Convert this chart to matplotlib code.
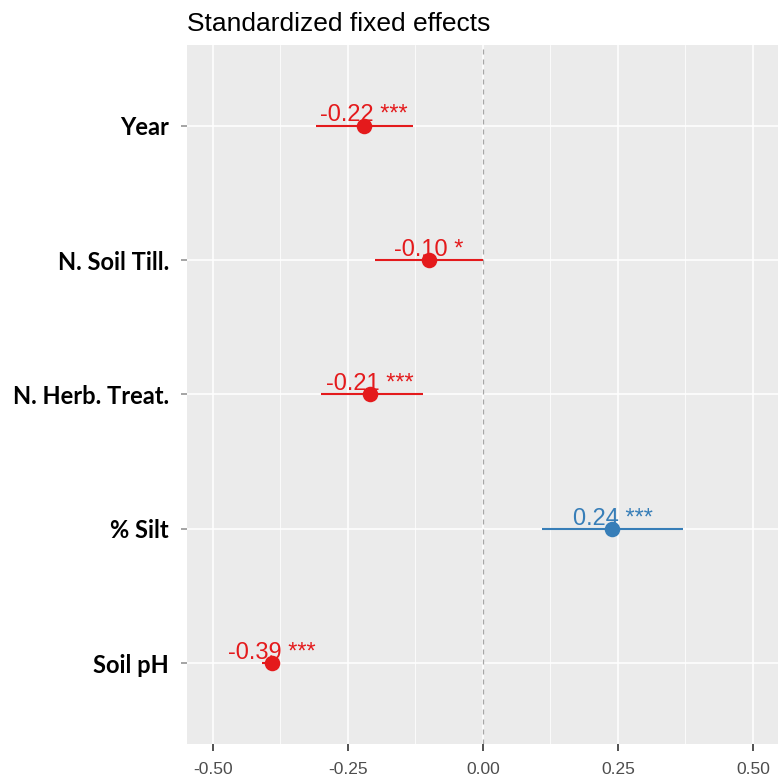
import numpy as np
import matplotlib
matplotlib.use("Agg")
import matplotlib.pyplot as plt

# standardized fixed effects of the mixed model
terms = ["Year", "N. Soil Till.", "N. Herb. Treat.", "% Silt", "Soil pH"]
estimates = [-0.22, -0.10, -0.21, 0.24, -0.39]
ci_low = [-0.31, -0.20, -0.30, 0.11, -0.41]
ci_high = [-0.13, -0.00, -0.11, 0.37, -0.38]
stars = ["***", "*", "***", "***", "***"]
xticks = [-0.50, -0.25, 0.00, 0.25, 0.50]
xminor = [-0.375, -0.125, 0.125, 0.375]

RED = "#E41A1C"
BLUE = "#377EB8"

fig = plt.figure(figsize=(7.78, 7.78), dpi=100)
ax = fig.add_axes([187 / 778, (778 - 744) / 778, 1.001 - 187 / 778, (744 - 45) / 778])
ax.set_facecolor("#EBEBEB")
for s in ax.spines.values():
    s.set_visible(False)

ypos = np.arange(len(terms))[::-1] + 1

# grid
for x in xticks:
    ax.axvline(x, color="white", lw=1.1, zorder=1)
for x in xminor:
    ax.axvline(x, color="white", lw=0.55, zorder=1)
for y in ypos:
    ax.axhline(y, color="white", lw=1.1, zorder=1)
ax.axvline(0, color="#A6A6A6", lw=0.9, ls=(0, (4, 4)), zorder=2)

for y, est, lo, hi, st in zip(ypos, estimates, ci_low, ci_high, stars):
    c = BLUE if est > 0 else RED
    ax.plot([lo, hi], [y, y], color=c, lw=1.5, zorder=3, solid_capstyle="butt")
    ax.annotate("%.2f %s" % (est, st), (est, y), xytext=(0, 3), textcoords="offset points",
                ha="center", va="baseline", color=c, fontsize=17,
                family="Liberation Sans", zorder=3)
    ax.scatter([est], [y], s=125, color=c, zorder=4, linewidths=0)

ax.set_xlim(-0.548, 0.548)
ax.set_ylim(0.4, 5.6)
ax.set_xticks(xticks)
ax.set_xticklabels(["%.2f" % v for v in xticks], family="Liberation Sans",
                   fontsize=12.5, color="#4D4D4D")
ax.set_yticks(ypos)
ax.set_yticklabels(terms, family="Lato", fontweight="bold", fontsize=17, color="black")
ax.tick_params(axis="x", length=5, width=1.2, color="#333333", pad=8)
ax.tick_params(axis="y", length=4, width=1.1, color="#8C8C8C", pad=9)

fig.text(187 / 778, 1 - 24 / 778, "Standardized fixed effects", family="Liberation Sans",
         fontsize=19, ha="left", va="center")

fig.savefig("out.png", dpi=100)
